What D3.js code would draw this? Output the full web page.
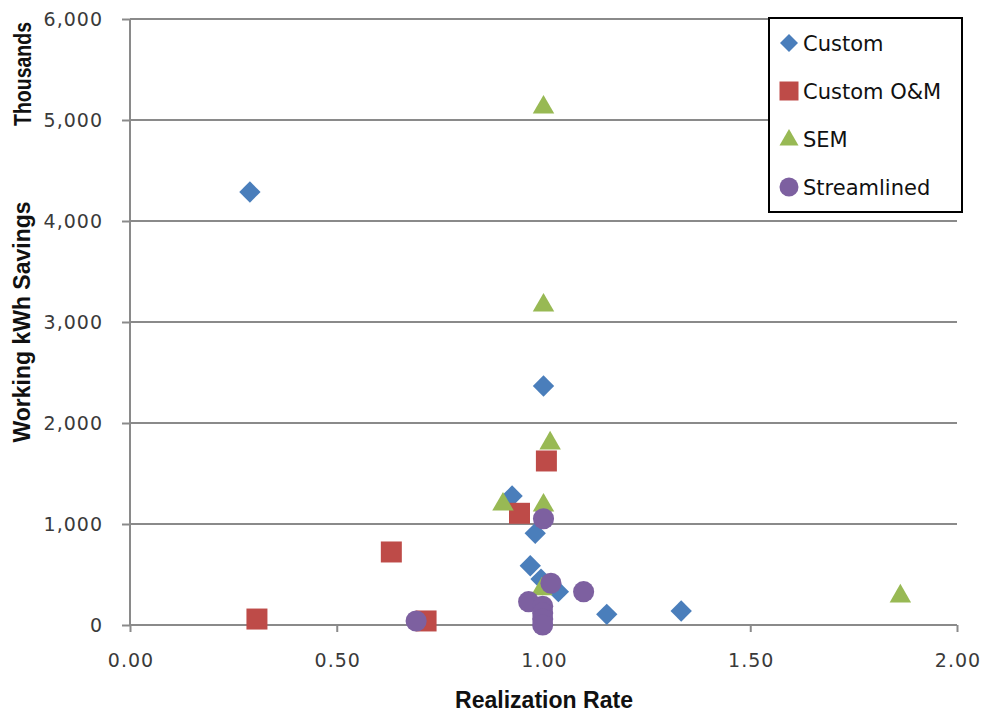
<!DOCTYPE html>
<html>
<head>
<meta charset="utf-8">
<script src="https://cdn.jsdelivr.net/npm/d3@7"></script>
<style>
  body { margin: 0; background: #fff; }
</style>
</head>
<body>
<div id="chart"></div>
<script>
// series values: [realization rate, working kWh savings (thousands)]
var customPts = [[0.29, 4287], [1.0, 2366], [0.924, 1277], [0.98, 908], [0.968, 587],
                 [0.994, 455], [1.036, 330], [1.153, 106], [1.333, 139]];
var customOMPts = [[0.307, 59], [0.632, 723], [0.716, 40], [0.942, 1106], [1.007, 1624]];
var semPts = [[1.0, 5125], [1.0, 3165], [1.016, 1800], [0.902, 1195], [1.0, 1185],
              [0.996, 355], [1.863, 285]];
var streamlinedPts = [[0.692, 40], [1.0, 1052], [1.018, 413], [1.097, 330], [0.964, 231],
                      [0.998, 185], [0.998, 120], [0.998, 60], [0.998, 0]];

var seriesNames = ["Custom", "Custom O&M", "SEM", "Streamlined"];
var seriesColors = ["#4a7ebb", "#be4b48", "#98b954", "#7d60a0"];
var xTicks = [0, 0.5, 1, 1.5, 2];
var yTicks = [0, 1000, 2000, 3000, 4000, 5000, 6000];

function init(){
    var w = 982, h = 713;
    var left = 130, right = 957, top = 19, bottom = 625;

    var svg = d3.select("#chart").append("svg")
        .attr("width", w)
        .attr("height", h);

    var x = d3.scaleLinear().domain([0, 2]).range([left, right]);
    var y = d3.scaleLinear().domain([0, 6000]).range([bottom, top]);

    // horizontal gridlines
    svg.append("g")
        .selectAll("line")
        .data(yTicks.filter(function(d){ return d > 0; }))
        .enter().append("line")
        .attr("x1", left).attr("x2", right)
        .attr("y1", function(d){ return y(d); })
        .attr("y2", function(d){ return y(d); })
        .attr("stroke", "#8a8a8a")
        .attr("stroke-width", 2);

    // axes
    var yAxis = svg.append("g")
        .attr("transform", "translate(" + left + ",0)")
        .call(d3.axisLeft(y).tickValues(yTicks).tickSize(8).tickPadding(19)
              .tickFormat(d3.format(",")));
    var xAxis = svg.append("g")
        .attr("transform", "translate(0," + bottom + ")")
        .call(d3.axisBottom(x).tickValues(xTicks).tickSize(7).tickPadding(22)
              .tickFormat(d3.format(".2f")));

    [xAxis, yAxis].forEach(function(a){
        a.select(".domain").attr("stroke", "#8a8a8a").attr("stroke-width", 2);
        a.selectAll(".tick line").attr("stroke", "#8a8a8a").attr("stroke-width", 2);
        a.selectAll(".tick text")
            .attr("fill", "#3a3a3a")
            .attr("font-family", "DejaVu Sans")
            .attr("font-size", "19px")
            .attr("letter-spacing", "1px");
    });
    yAxis.select(".domain").attr("d", "M0," + bottom + "V" + top);
    xAxis.select(".domain").attr("d", "M" + left + ",0H" + right);
    xAxis.selectAll(".tick text").attr("dx", "0.5px");

    // axis titles
    function title(txt, tx, ty, rot, len){
        svg.append("text")
            .attr("transform", "translate(" + tx + "," + ty + ") rotate(" + rot + ")")
            .attr("text-anchor", "middle")
            .attr("font-family", "Liberation Sans")
            .attr("font-weight", "bold")
            .attr("font-size", "23px")
            .attr("textLength", len)
            .attr("lengthAdjust", "spacingAndGlyphs")
            .attr("fill", "#111")
            .text(txt);
    }
    title("Realization Rate", 544, 708, 0, 178);
    title("Working kWh Savings", 30, 322, -90, 241);
    title("Thousands", 31, 74, -90, 104);

    var shapes = [
        d3.symbol().type(d3.symbolDiamond2).size(290),
        d3.symbol().type(d3.symbolSquare).size(441),
        d3.symbol().type(d3.symbolTriangle2).size(330),
        d3.symbol().type(d3.symbolCircle).size(350)
    ];
    var allSeries = [customPts, customOMPts, semPts, streamlinedPts];

    allSeries.forEach(function(pts, i){
        svg.append("g")
            .selectAll("path")
            .data(pts)
            .enter().append("path")
            .attr("transform", function(d){
                return "translate(" + x(d[0]) + "," + y(d[1]) + ")";
            })
            .attr("d", shapes[i])
            .attr("fill", seriesColors[i]);
    });

    // legend
    var legend = svg.append("g");
    legend.append("rect")
        .attr("x", 769).attr("y", 18)
        .attr("width", 193).attr("height", 194)
        .attr("fill", "#fff")
        .attr("stroke", "#000")
        .attr("stroke-width", 2);

    var legendShapes = [
        d3.symbol().type(d3.symbolDiamond2).size(206),
        d3.symbol().type(d3.symbolSquare).size(361),
        d3.symbol().type(d3.symbolTriangle2).size(260),
        d3.symbol().type(d3.symbolCircle).size(284)
    ];
    var legendY = [43, 91, 139, 187];

    seriesNames.forEach(function(name, i){
        legend.append("path")
            .attr("transform", "translate(789," + (legendY[i] + (i === 2 ? 1 : 0)) + ")")
            .attr("d", legendShapes[i])
            .attr("fill", seriesColors[i]);
        legend.append("text")
            .attr("x", 803)
            .attr("y", legendY[i])
            .attr("dy", "0.36em")
            .attr("font-family", "DejaVu Sans")
            .attr("font-size", "21px")
            .attr("fill", "#111")
            .text(name);
    });
}
window.onload = init;
</script>
</body>
</html>
